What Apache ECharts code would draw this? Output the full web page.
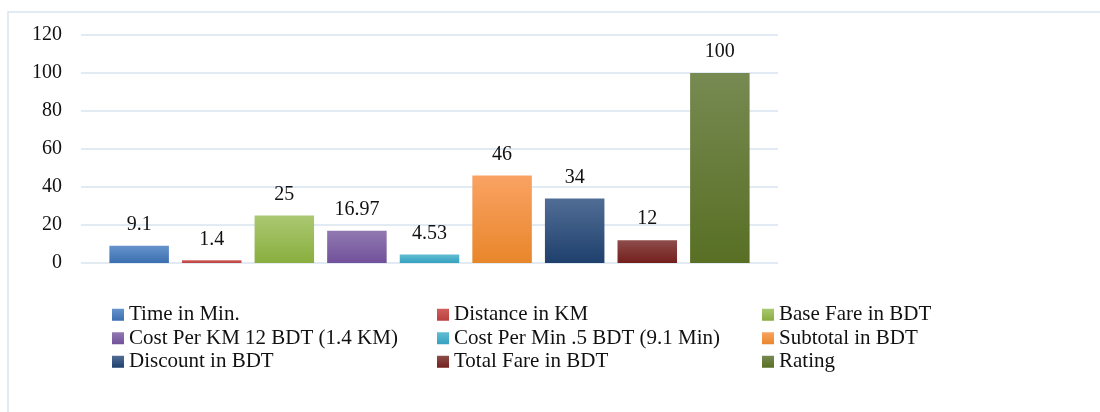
<!DOCTYPE html>
<html>
<head>
<meta charset="utf-8">
<script src="https://cdn.jsdelivr.net/npm/echarts@6/dist/echarts.min.js"></script>
<style>
html,body{margin:0;padding:0;background:#fff;}
#c{width:1100px;height:412px;}
</style>
</head>
<body>
<div id="c"></div>
<script>
const categories = [''];
const seriesNames = [
  'Time in Min.', 'Distance in KM', 'Base Fare in BDT',
  'Cost Per KM 12 BDT (1.4 KM)', 'Cost Per Min .5 BDT (9.1 Min)', 'Subtotal in BDT',
  'Discount in BDT', 'Total Fare in BDT', 'Rating'
];
const seriesValues = [9.1, 1.4, 25, 16.97, 4.53, 46, 34, 12, 100];
const valueLabels = ['9.1', '1.4', '25', '16.97', '4.53', '46', '34', '12', '100'];
const yTicks = [0, 20, 40, 60, 80, 100, 120];

const topColors = ['#6693cc', '#cf5f5c', '#aac872', '#9179b1', '#60bdd3', '#f9a263', '#506d95', '#8e4d4b', '#778a52'];
const bottomColors = ['#3b6fb0', '#b9403d', '#8aae3e', '#71519a', '#36a1be', '#e8862a', '#1f406d', '#731f1c', '#586f24'];

const FONT = '"Liberation Serif", "Times New Roman", serif';

const series = seriesNames.map((name, i) => ({
  name: name,
  type: 'bar',
  barWidth: 59.5,
  barGap: '22%',
  data: [seriesValues[i]],
  itemStyle: {
    color: {
      type: 'linear', x: 0, y: 0, x2: 0, y2: 1,
      colorStops: [{offset: 0, color: topColors[i]}, {offset: 1, color: bottomColors[i]}]
    }
  },
  label: {
    show: true,
    position: 'top',
    distance: 11,
    formatter: () => valueLabels[i],
    fontFamily: FONT,
    fontSize: 20,
    color: '#111'
  }
}));

function legendCol(names, left) {
  return {
    orient: 'vertical',
    left: left,
    top: 303,
    itemWidth: 12,
    itemHeight: 12,
    itemGap: 0,
    selectedMode: false,
    icon: 'rect',
    data: names,
    itemStyle: {borderWidth: 0},
    textStyle: {fontFamily: FONT, fontSize: 21, color: '#111', lineHeight: 23.5},
    padding: 0
  };
}

const chart = echarts.init(document.getElementById('c'));
chart.setOption({
  animation: false,
  backgroundColor: '#fff',
  graphic: [{
    type: 'rect',
    shape: {x: 8, y: 12, width: 1200, height: 500},
    style: {fill: 'none', stroke: '#d9e3f0', lineWidth: 1.5},
    silent: true
  }],
  legend: [
    legendCol([seriesNames[0], seriesNames[3], seriesNames[6]], 112),
    legendCol([seriesNames[1], seriesNames[4], seriesNames[7]], 437),
    legendCol([seriesNames[2], seriesNames[5], seriesNames[8]], 762)
  ],
  grid: {left: 81, right: 322, top: 35, bottom: 149, containLabel: false},
  xAxis: {
    type: 'category',
    data: categories,
    axisLine: {show: false},
    axisTick: {show: false},
    axisLabel: {show: false}
  },
  yAxis: {
    type: 'value',
    min: yTicks[0],
    max: yTicks[yTicks.length - 1],
    interval: 20,
    axisLine: {show: false},
    axisTick: {show: false},
    axisLabel: {fontFamily: FONT, fontSize: 20, color: '#111', margin: 19, padding: [4, 0, 0, 0]},
    splitLine: {lineStyle: {color: '#d9e3f0', width: 1.5}}
  },
  series: series
});
</script>
</body>
</html>
